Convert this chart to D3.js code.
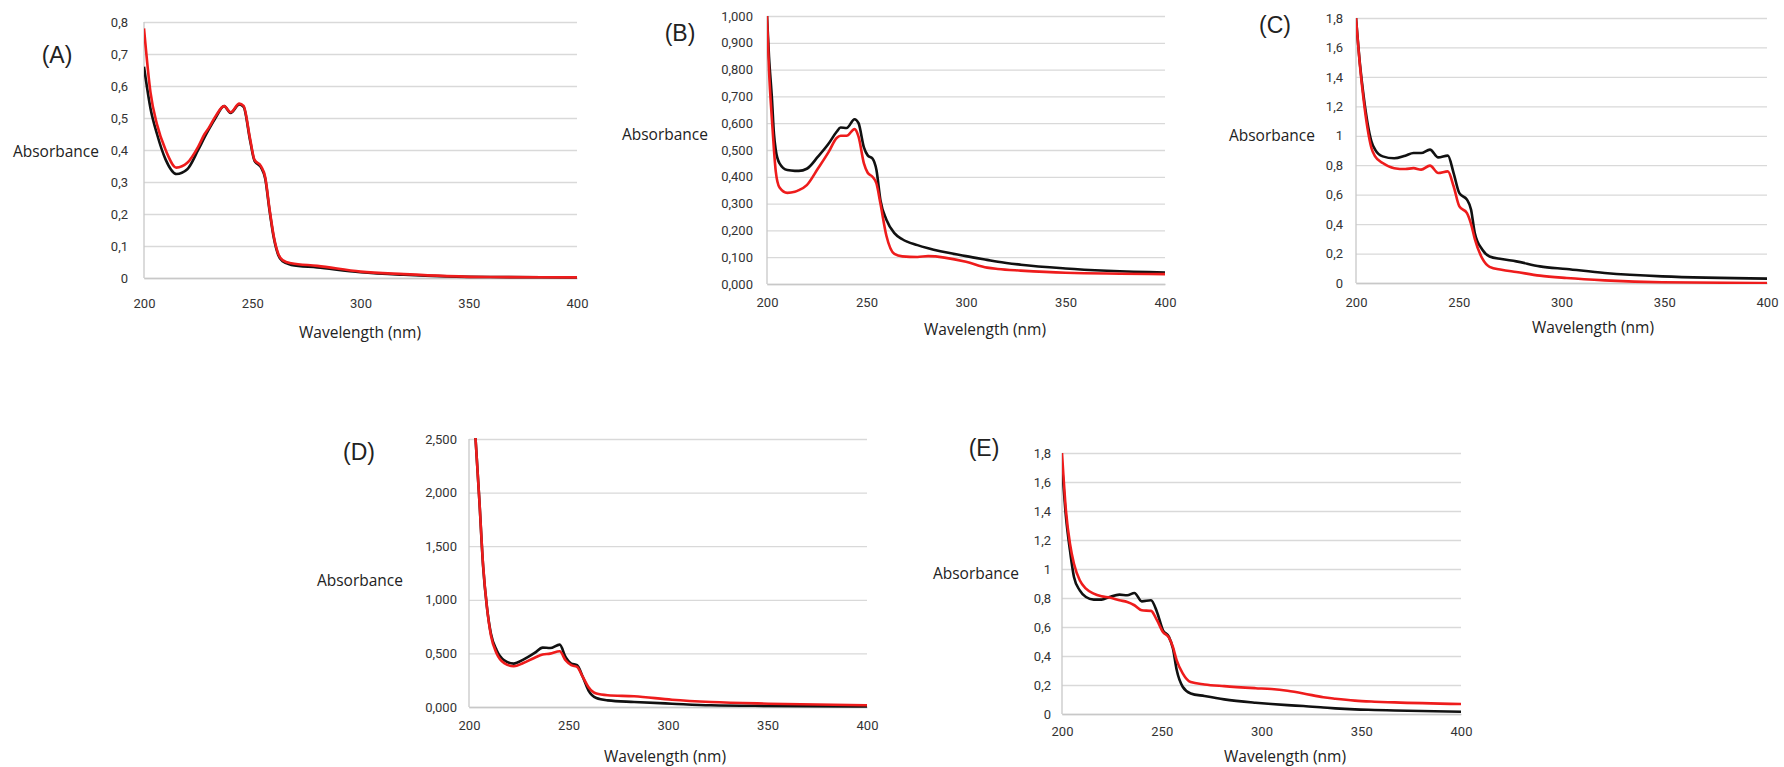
<!DOCTYPE html>
<html>
<head>
<meta charset="utf-8">
<script src="https://cdn.jsdelivr.net/npm/d3@7"></script>
<style>
  body { margin: 0; background: #fff; }
  svg { display: block; }
  .tick text { font-family: "Roboto", "Liberation Sans", sans-serif; font-size: 13px; fill: #333; }
  .lbl { font-family: "Open Sans", "Liberation Sans", sans-serif; font-size: 15.5px; fill: #222; }
  .letter { font-family: "Liberation Sans", Arial, sans-serif; font-size: 23px; fill: #222; }
</style>
</head>
<body>
<svg width="1784" height="767"></svg>
<script>
var svg = d3.select("svg");

// shared x ticks
var xTicks = [200, 250, 300, 350, 400];

// (A)
var wlA    = [200, 203, 206, 210, 215, 220, 225, 228, 230, 233, 237, 240, 244, 246, 249, 251, 254, 256, 258, 260, 262, 264, 268, 280, 300, 320, 340, 360, 400];
var blackA = [0.66, 0.53, 0.45, 0.37, 0.325, 0.34, 0.40, 0.44, 0.465, 0.50, 0.537, 0.516, 0.542, 0.535, 0.43, 0.367, 0.346, 0.31, 0.21, 0.124, 0.072, 0.052, 0.041, 0.033, 0.018, 0.01, 0.005, 0.003, 0.002];
var redA   = [0.78, 0.58, 0.48, 0.40, 0.345, 0.36, 0.41, 0.45, 0.47, 0.505, 0.537, 0.518, 0.545, 0.538, 0.435, 0.37, 0.35, 0.315, 0.215, 0.128, 0.076, 0.056, 0.046, 0.038, 0.02, 0.012, 0.006, 0.003, 0.002];
var yTicksA = [0, 0.1, 0.2, 0.3, 0.4, 0.5, 0.6, 0.7, 0.8];

// (B)
var wlB    = [200, 201, 202.5, 203.5, 204.4, 206.3, 210.2, 214, 216, 220, 225.6, 231, 235, 237, 240, 244, 246, 248.7, 250.6, 253, 255, 257, 260, 264, 268, 275.6, 281, 300, 310.6, 316, 327.5, 350, 400];
var blackB = [1.0, 0.85, 0.69, 0.56, 0.50, 0.45, 0.425, 0.422, 0.422, 0.43, 0.475, 0.524, 0.568, 0.584, 0.582, 0.615, 0.60, 0.51, 0.48, 0.468, 0.425, 0.313, 0.24, 0.19, 0.167, 0.145, 0.133, 0.104, 0.09, 0.083, 0.072, 0.058, 0.043];
var redB   = [1.0, 0.80, 0.61, 0.50, 0.42, 0.36, 0.34, 0.344, 0.35, 0.369, 0.431, 0.493, 0.545, 0.553, 0.553, 0.578, 0.55, 0.45, 0.415, 0.40, 0.375, 0.30, 0.18, 0.112, 0.103, 0.101, 0.104, 0.083, 0.061, 0.056, 0.05, 0.042, 0.037];
var yTicksB = [0, 0.1, 0.2, 0.3, 0.4, 0.5, 0.6, 0.7, 0.8, 0.9, 1.0];

// (C)
var wlC    = [200, 201.9, 203.7, 205.6, 207.5, 209.3, 213, 218.6, 224, 228, 231.7, 236, 240, 244.7, 247.5, 250.3, 254, 256, 257.8, 261.5, 265, 270.8, 278, 289.5, 302.5, 321, 349, 400];
var blackC = [1.8, 1.49, 1.27, 1.087, 0.962, 0.906, 0.86, 0.847, 0.865, 0.883, 0.883, 0.906, 0.853, 0.865, 0.747, 0.61, 0.566, 0.498, 0.34, 0.226, 0.18, 0.163, 0.147, 0.113, 0.095, 0.068, 0.045, 0.03];
var redC   = [1.8, 1.48, 1.245, 1.05, 0.917, 0.86, 0.815, 0.78, 0.774, 0.78, 0.77, 0.797, 0.747, 0.758, 0.657, 0.52, 0.475, 0.40, 0.30, 0.165, 0.11, 0.09, 0.075, 0.05, 0.034, 0.018, 0.005, 0.0];
var yTicksC = [0, 0.2, 0.4, 0.6, 0.8, 1, 1.2, 1.4, 1.6, 1.8];

// (D)
var wlD    = [202.5, 203.3, 205.2, 207.1, 209, 211, 213.9, 217.7, 222.5, 227.3, 233, 237, 240.8, 245.6, 248.5, 251.4, 254.3, 257.2, 260, 264, 269.7, 283, 302, 321.6, 350.5, 400];
var blackD = [2.75, 2.5, 1.93, 1.31, 0.934, 0.685, 0.53, 0.436, 0.405, 0.442, 0.504, 0.554, 0.55, 0.582, 0.467, 0.405, 0.39, 0.28, 0.156, 0.084, 0.062, 0.047, 0.031, 0.016, 0.01, 0.006];
var redD   = [2.75, 2.5, 1.93, 1.32, 0.934, 0.67, 0.5, 0.41, 0.38, 0.41, 0.46, 0.49, 0.498, 0.52, 0.436, 0.39, 0.374, 0.28, 0.187, 0.125, 0.109, 0.1, 0.068, 0.047, 0.031, 0.016];
var yTicksD = [0, 0.5, 1.0, 1.5, 2.0, 2.5];

// (E)
var wlE    = [200, 202, 204, 206, 208.9, 212, 215.9, 219.8, 223.8, 228.8, 232.7, 236.3, 240, 244.6, 247.6, 250.6, 253.6, 255.6, 257.5, 260.5, 264.5, 271.4, 281.3, 297, 305, 313, 321, 331, 337, 346.8, 356.7, 366.7, 400];
var blackE = [1.72, 1.357, 1.128, 0.945, 0.853, 0.807, 0.789, 0.789, 0.807, 0.823, 0.819, 0.835, 0.777, 0.784, 0.704, 0.578, 0.532, 0.452, 0.303, 0.188, 0.142, 0.124, 0.101, 0.078, 0.069, 0.061, 0.055, 0.045, 0.039, 0.032, 0.028, 0.024, 0.016];
var redE   = [1.8, 1.40, 1.174, 1.036, 0.922, 0.864, 0.83, 0.812, 0.803, 0.784, 0.773, 0.75, 0.715, 0.711, 0.647, 0.566, 0.527, 0.463, 0.37, 0.28, 0.22, 0.204, 0.192, 0.178, 0.172, 0.16, 0.142, 0.115, 0.105, 0.092, 0.085, 0.08, 0.069];
var yTicksE = [0, 0.2, 0.4, 0.6, 0.8, 1, 1.2, 1.4, 1.6, 1.8];

var fmtShort = function(d) { return d3.format("~g")(d).replace(".", ","); };
var fmtLong  = function(d) { return d3.format(".3f")(d).replace(".", ","); };

// panel boxes (pixel layout only)
var panels = [
  {id: "A", wl: wlA, black: blackA, red: redA, ticks: yTicksA, fmt: function(d) { return d === 0 ? "0" : d3.format(".1f")(d).replace(".", ","); },
   left: 144, right: 577, top: 22, bottom: 278, gap: 16, letter: [57, 55], abs: [99, 152], xlab: 303, wlab: [360, 333]},
  {id: "B", wl: wlB, black: blackB, red: redB, ticks: yTicksB, fmt: fmtLong,
   left: 767, right: 1165, top: 16, bottom: 284, gap: 14, letter: [680, 33], abs: [708, 135], xlab: 302, wlab: [985, 330]},
  {id: "C", wl: wlC, black: blackC, red: redC, ticks: yTicksC, fmt: fmtShort,
   left: 1356, right: 1767, top: 18, bottom: 283, gap: 13, letter: [1275, 25], abs: [1315, 136], xlab: 302, wlab: [1593, 328]},
  {id: "D", wl: wlD, black: blackD, red: redD, ticks: yTicksD, fmt: fmtLong,
   left: 469, right: 867, top: 439, bottom: 707, gap: 12, letter: [359, 452], abs: [403, 581], xlab: 725, wlab: [665, 757]},
  {id: "E", wl: wlE, black: blackE, red: redE, ticks: yTicksE, fmt: fmtShort,
   left: 1062, right: 1461, top: 453, bottom: 714, gap: 11, letter: [984, 448], abs: [1019, 574], xlab: 731, wlab: [1285, 757]}
];

panels.forEach(function(p) {
    var x = d3.scaleLinear().domain([200, 400]).range([p.left, p.right]);
    var y = d3.scaleLinear().domain([0, d3.max(p.ticks)]).range([p.bottom, p.top]);
    var g = svg.append("g").attr("class", "panel-" + p.id);

    // gridlines + y labels
    var yAxis = g.append("g")
        .attr("transform", "translate(" + p.left + ",0)")
        .call(d3.axisLeft(y).tickValues(p.ticks).tickFormat(p.fmt)
            .tickSize(-(p.right - p.left)).tickPadding(p.gap));
    yAxis.select(".domain").remove();
    yAxis.selectAll(".tick line").attr("stroke", "#d9d9d9").attr("stroke-width", 1.3);

    // x axis
    var xAxis = g.append("g")
        .attr("transform", "translate(0," + p.bottom + ")")
        .call(d3.axisBottom(x).tickValues(xTicks).tickFormat(d3.format("d")).tickSize(0));
    xAxis.select(".domain").attr("stroke", "#c8c8c8").attr("stroke-width", 1.3);
    xAxis.selectAll(".tick text").attr("y", p.xlab - p.bottom).attr("dy", "0.35em");

    // y axis line
    g.append("line")
        .attr("x1", p.left).attr("x2", p.left)
        .attr("y1", p.top).attr("y2", p.bottom)
        .attr("stroke", "#c8c8c8").attr("stroke-width", 1.3);

    // clip
    svg.append("clipPath").attr("id", "clip" + p.id)
      .append("rect")
        .attr("x", p.left).attr("y", p.top - 1)
        .attr("width", p.right - p.left + 2).attr("height", p.bottom - p.top + 2);

    var line = d3.line()
        .x(function(d) { return x(d[0]); })
        .y(function(d) { return y(d[1]); })
        .curve(d3.curveMonotoneX);

    [["black", p.black, "#111"], ["red", p.red, "#ee1c1c"]].forEach(function(s) {
        g.append("path")
            .datum(d3.zip(p.wl, s[1]))
            .attr("clip-path", "url(#clip" + p.id + ")")
            .attr("fill", "none")
            .attr("stroke", s[2])
            .attr("stroke-width", 2.6)
            .attr("stroke-linejoin", "round")
            .attr("d", line);
    });

    g.append("text").attr("class", "letter")
        .attr("x", p.letter[0]).attr("y", p.letter[1])
        .attr("text-anchor", "middle").attr("dy", "0.35em")
        .text("(" + p.id + ")");

    g.append("text").attr("class", "lbl")
        .attr("x", p.abs[0]).attr("y", p.abs[1])
        .attr("text-anchor", "end").attr("dy", "0.35em")
        .text("Absorbance");

    g.append("text").attr("class", "lbl")
        .attr("x", p.wlab[0]).attr("y", p.wlab[1])
        .attr("text-anchor", "middle").attr("dy", "0.35em")
        .text("Wavelength (nm)");
});
</script>
</body>
</html>
